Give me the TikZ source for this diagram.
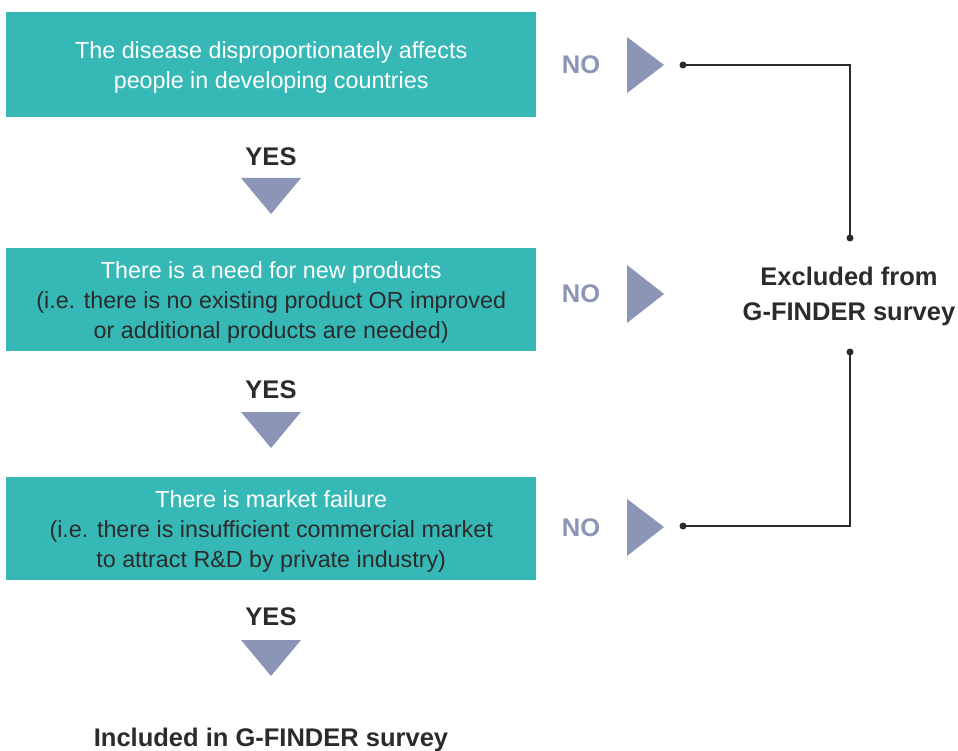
\documentclass[tikz,border=0pt]{standalone}
\usepackage{fontspec}
\setmainfont{Liberation Sans}
\usetikzlibrary{shapes.geometric}
\definecolor{teal1}{HTML}{36B9B6}
\definecolor{tri}{HTML}{8B95B5}
\definecolor{darktxt}{HTML}{2B2B2B}
\begin{document}
\begin{tikzpicture}[x=1pt,y=-1pt,
  qbox/.style={fill=teal1,minimum width=530pt,anchor=north west,inner sep=0pt},
  qtext/.style={align=center,inner sep=0pt,yshift=-3pt,font=\fontsize{23.3}{30}\selectfont},
  nolab/.style={text=tri,font=\bfseries\fontsize{25.5}{28}\selectfont},
  yeslab/.style={text=darktxt,font=\bfseries\fontsize{25.5}{28}\selectfont},
  endlab/.style={text=darktxt,font=\bfseries\fontsize{25.5}{35}\selectfont,align=center},
  conn/.style={line width=1.4pt,draw=darktxt},
  dotc/.style={fill=darktxt,circle,inner sep=0pt,minimum size=7pt}]
\useasboundingbox (0,0) rectangle (958,751);
% boxes
\node[qbox,minimum height=105pt] (b1) at (6,12) {};
\node[qtext] (t1) at (b1.center) {\color{white}The disease disproportionately affects\\\color{white}people in developing countries};
\node[qbox,minimum height=103pt] (b2) at (6,248) {};
\node[qtext] (t2) at (b2.center) {\color{white}There is a need for new products\\\color{darktxt}(i.e. there is no existing product OR improved\\\color{darktxt}or additional products are needed)};
\node[qbox,minimum height=103pt] (b3) at (6,477) {};
\node[qtext] (t3) at (b3.center) {\color{white}There is market failure\\\color{darktxt}(i.e. there is insufficient commercial market\\\color{darktxt}to attract R\&D by private industry)};
% YES labels and down triangles
\node[yeslab] (y1) at (271,157) {YES};
\fill[tri] (241,178) -- (301,178) -- (271,214) -- cycle;
\node[yeslab] (y2) at (271,390) {YES};
\fill[tri] (241,412) -- (301,412) -- (271,448) -- cycle;
\node[yeslab] (y3) at (271,617) {YES};
\fill[tri] (241,640) -- (301,640) -- (271,676) -- cycle;
% NO labels and right triangles
\node[nolab] (n1) at (581,65) {NO};
\fill[tri] (627,37) -- (664,65) -- (627,93) -- cycle;
\node[nolab] (n2) at (581,294) {NO};
\fill[tri] (627,265) -- (664,294) -- (627,323) -- cycle;
\node[nolab] (n3) at (581,528) {NO};
\fill[tri] (627,499) -- (664,527) -- (627,556) -- cycle;
% end labels
\node[endlab] (ex) at (849,296) {Excluded from\\G-FINDER survey};
\node[endlab] (inc) at (271,740) {Included in G-FINDER survey};
% connectors
\node[dotc] (d1) at (683,65) {};
\node[dotc] (d2) at (850,238) {};
\node[dotc] (d3) at (683,526) {};
\node[dotc] (d4) at (850,352) {};
\draw[conn] (d1.center) -| (d2.center);
\draw[conn] (d3.center) -| (d4.center);
\end{tikzpicture}
\end{document}
